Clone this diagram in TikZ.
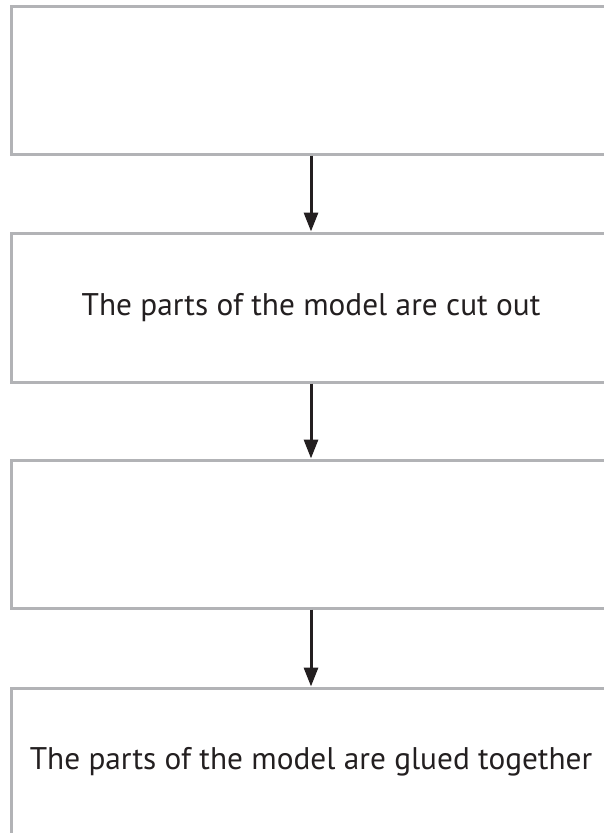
\documentclass[tikz,border=0pt]{standalone}
\usepackage{fontspec}
\setmainfont{PT Sans}
\usetikzlibrary{arrows.meta}
\definecolor{boxgrey}{RGB}{178,179,182}
\definecolor{arrdark}{RGB}{35,31,32}
\begin{document}
\begin{tikzpicture}[x=1pt,y=1pt,
  stepbox/.style={draw=boxgrey, line width=3pt, rectangle, inner sep=0pt,
    minimum width=599pt, font=\fontsize{31.3}{37}\selectfont, text=arrdark},
  arr/.style={draw=arrdark, line width=3pt, -{Triangle[width=14pt,length=19pt]}}]
\useasboundingbox (0,0) rectangle (604,-833);
\clip (0,0) rectangle (604,-833);
\fill[white] (0,0) rectangle (604,-833);
\node[stepbox, minimum height=148pt] (b1) at (311,-80) {};
\node[stepbox, minimum height=149pt] (b2) at (311,-307.5) {The parts of the model are cut out};
\node[stepbox, minimum height=148pt] (b3) at (311,-534) {};
\node[stepbox, minimum height=148pt] (b4) at (311,-762) {The parts of the model are glued together};
\draw[arr] (b1.south) -- (b2.north);
\draw[arr] (b2.south) -- (b3.north);
\draw[arr] (b3.south) -- (b4.north);
\end{tikzpicture}
\end{document}
